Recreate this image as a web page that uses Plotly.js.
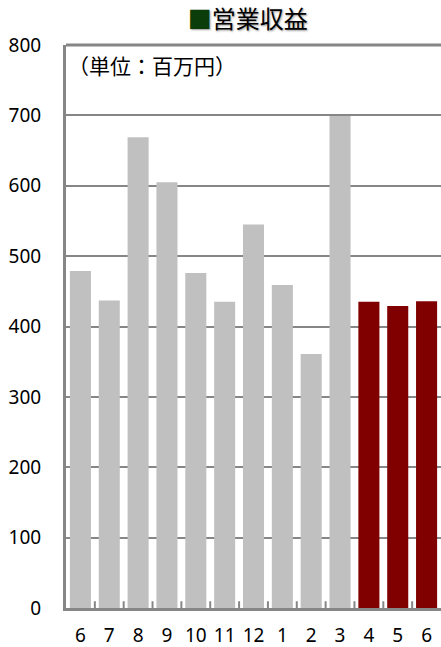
<!DOCTYPE html>
<html><head><meta charset="utf-8">
<script src="https://cdn.plot.ly/plotly-3.0.1.min.js"></script>
<style>body{margin:0;padding:0;background:#fff}#c{width:441px;height:647px}</style>
</head><body><div id="c"></div>
<script>
const months = ['6','7','8','9','10','11','12','1','2','3','4','5','6'];
const revenue = [479, 437, 669, 605, 476, 435, 545, 459, 361, 699, 435, 429, 436];
const barColors = ['#c0c0c0','#c0c0c0','#c0c0c0','#c0c0c0','#c0c0c0','#c0c0c0','#c0c0c0','#c0c0c0','#c0c0c0','#c0c0c0','#800000','#800000','#800000'];
const yTicks = [0,100,200,300,400,500,600,700,800];
const xIdx = months.map((m,i)=>i);
const font = "'Noto Sans', 'DejaVu Sans', sans-serif";
const cjk = "'Noto Sans CJK JP', 'Noto Sans CJK SC', sans-serif";

Plotly.newPlot('c', [{
  type:'bar', x:xIdx, y:revenue, marker:{color:barColors}, width:0.73,
  hoverinfo:'none'
}], {
  width:441, height:647,
  margin:{l:66, r:0, t:45, b:39},
  paper_bgcolor:'#fff', plot_bgcolor:'#fff',
  showlegend:false,
  title:{text:'<span style="color:#0b3d0b">■</span>営業収益', x:0.562, xanchor:'center', y:0.969, yanchor:'middle',
    font:{family:cjk, size:24, color:'#000', shadow:'1px 1px 2px #999'}},
  xaxis:{type:'linear', range:[-0.5,12.5], tickmode:'array', tickvals:xIdx, ticktext:months,
    showgrid:false, zeroline:false, showline:true, linecolor:'#868686', linewidth:3,
    ticks:'', tickfont:{family:font, size:19, color:'#000'}, ticklabelstandoff:8, fixedrange:true},
  yaxis:{range:[0,800], tickmode:'array', tickvals:yTicks, ticktext:yTicks.map(String),
    showgrid:true, gridcolor:'#868686', gridwidth:2, zeroline:false,
    showline:true, linecolor:'#868686', linewidth:3,
    ticks:'', tickfont:{family:font, size:19, color:'#000'}, ticklabelstandoff:18, fixedrange:true},
  shapes: xIdx.slice(0,-1).map(i=>({type:'line', xref:'x', yref:'paper', x0:i+0.5, x1:i+0.5, y0:0, y1:0.012,
    line:{color:'#868686', width:2}})).concat([{type:'line', xref:'paper', yref:'paper', x0:0, x1:1, y0:1, y1:1,
    line:{color:'#868686', width:3}}]),
  annotations:[{text:'（単位：百万円）', xref:'paper', yref:'y', x:0.0, y:771, xanchor:'left', yanchor:'middle',
    showarrow:false, font:{family:cjk, size:21, color:'#000'}}]
}, {displayModeBar:false, staticPlot:true});
</script></body></html>
